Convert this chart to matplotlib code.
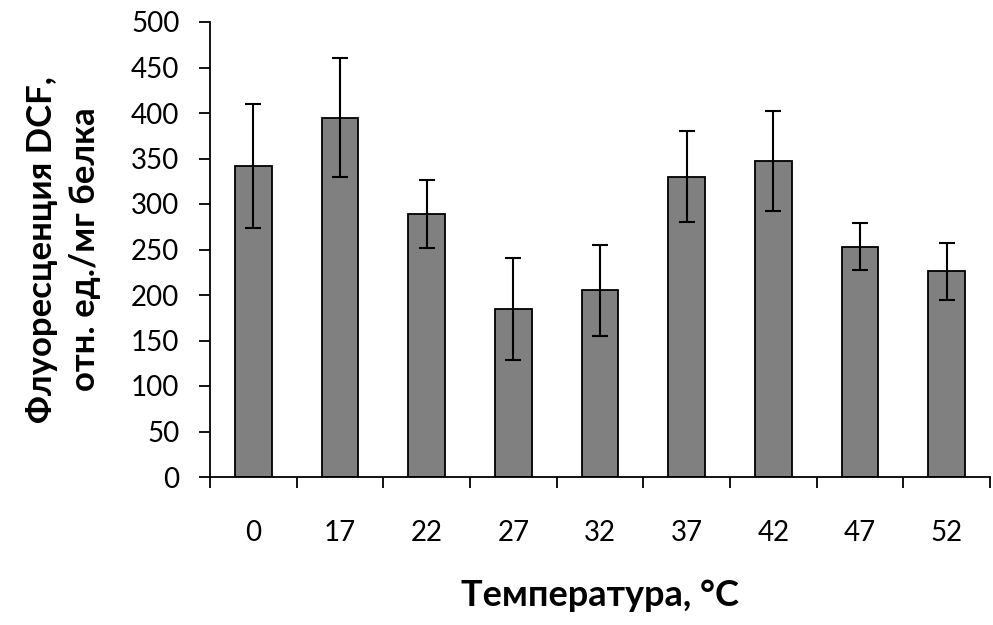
import matplotlib
matplotlib.use('Agg')
import matplotlib.pyplot as plt
import numpy as np

plt.rcParams['font.family'] = ['Lato', 'DejaVu Sans']

temps = ['0', '17', '22', '27', '32', '37', '42', '47', '52']
values = [342, 395, 289, 185, 205, 330, 347, 253, 226]
errors = [68, 65, 37, 56, 50, 50, 55, 26, 31]

fig = plt.figure(figsize=(9.93, 6.25), dpi=100)
ax = fig.add_axes([210/993, 1-477/625, 780/993, 455/625])

x = np.arange(len(temps))
ax.bar(x, values, width=0.42, color='#808080', edgecolor='black', linewidth=1.3,
       yerr=errors, error_kw=dict(ecolor='black', elinewidth=1.5, capsize=5.5, capthick=1.5))

ax.set_xlim(-0.5, len(temps) - 0.5)
ax.set_ylim(0, 500)
ax.set_yticks(np.arange(0, 501, 50))
ax.tick_params(axis='y', labelsize=20, length=8, width=1.3, pad=14, direction='out')

# category boundaries get the tick marks, labels sit at the centres
ax.set_xticks(np.arange(-0.5, len(temps)), labels=[''] * (len(temps) + 1))
ax.set_xticks(x, labels=temps, minor=True)
ax.tick_params(axis='x', which='major', length=8, width=1.3, direction='out')
ax.tick_params(axis='x', which='minor', length=0, labelsize=20, pad=31)

for s in ['top', 'right']:
    ax.spines[s].set_visible(False)
for s in ['left', 'bottom']:
    ax.spines[s].set_linewidth(1.3)

ax.set_ylabel('Флуоресценция DCF,\nотн. ед./мг белка', fontsize=25, fontweight='bold',
              labelpad=22, linespacing=1.4)
ax.set_xlabel('Температура, °C', fontsize=26, fontweight='bold', labelpad=24)

fig.savefig('out.png', dpi=100)
